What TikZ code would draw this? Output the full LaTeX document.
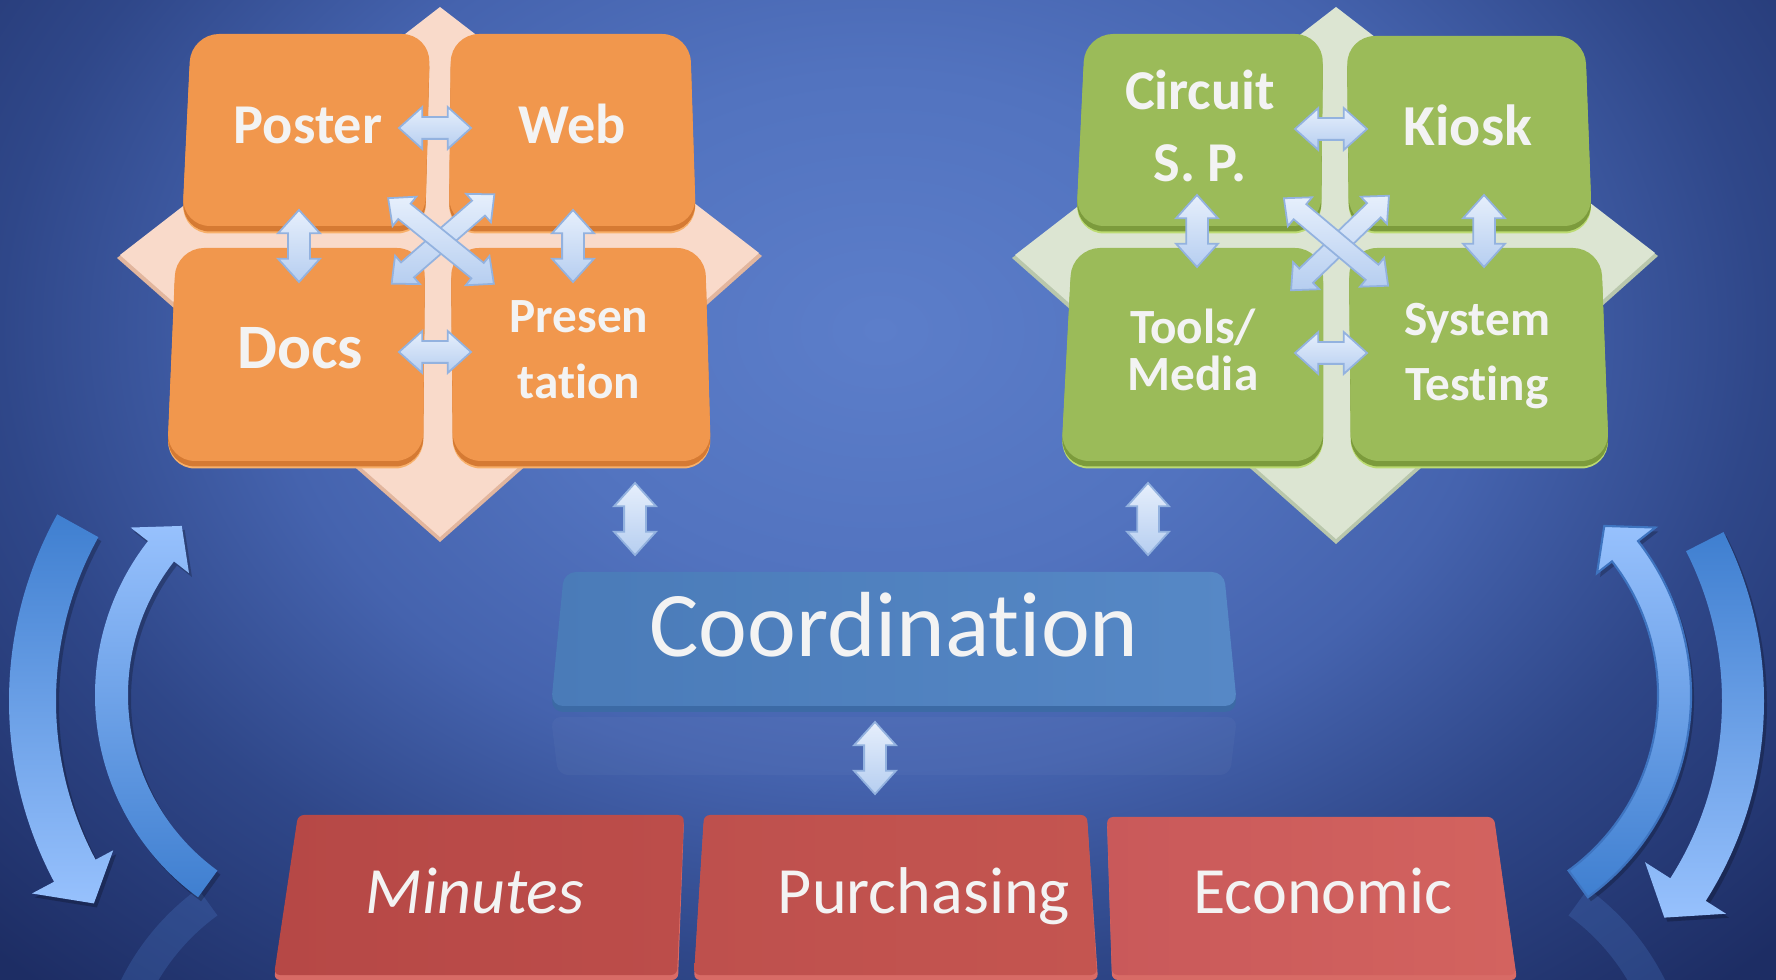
\documentclass[tikz,border=0pt]{standalone}
\usepackage{fontspec}
\setmainfont{Carlito}[Ligatures={NoCommon}]
\usetikzlibrary{shapes.arrows}
\definecolor{bg0}{HTML}{5C7ECA}
\definecolor{bg1}{HTML}{5273BF}
\definecolor{bg2}{HTML}{4563AE}
\definecolor{bg3}{HTML}{2F4789}
\definecolor{bg4}{HTML}{1D2D64}
\pgfdeclareradialshading{bgshade}{\pgfpoint{0bp}{0bp}}{color(0bp)=(bg0); color(8bp)=(bg1); color(14bp)=(bg2); color(20bp)=(bg3); color(28bp)=(bg4); color(50bp)=(bg4)}
\definecolor{orgfill}{HTML}{F1974D}
\definecolor{orgbevc}{HTML}{D57A33}
\definecolor{orgrimc}{HTML}{F8B06A}
\definecolor{orgdia}{HTML}{F9DACA}
\definecolor{orgdiab}{HTML}{E2B69E}
\definecolor{grnfill}{HTML}{9BBB59}
\definecolor{grnbevc}{HTML}{7C9B3C}
\definecolor{grnrimc}{HTML}{BCDB72}
\definecolor{grndia}{HTML}{DCE5D2}
\definecolor{grndiab}{HTML}{B9C7AC}
\definecolor{coA}{HTML}{4A7BB8}
\definecolor{coB}{HTML}{5688C6}
\definecolor{cobev}{HTML}{3C6AA5}
\definecolor{mA}{HTML}{B64846}
\definecolor{mB}{HTML}{BC4D4A}
\definecolor{pA}{HTML}{BE504D}
\definecolor{pB}{HTML}{C45550}
\definecolor{eA}{HTML}{C9595A}
\definecolor{eB}{HTML}{D3635F}
\definecolor{redbev}{HTML}{D86B66}
\definecolor{artop}{HTML}{E6EFFC}
\definecolor{arbot}{HTML}{B6CEF0}
\definecolor{arline}{HTML}{93B2DF}
\definecolor{cdark}{HTML}{3F7FD0}
\definecolor{clight}{HTML}{97C1FD}
\definecolor{cline}{HTML}{3E74C0}
\definecolor{reflc}{HTML}{4F80D0}
\definecolor{txt}{HTML}{F3F3F3}
% trapezoid box: style, x top-left, x top-right, x bottom-right, x bottom-left, y top, y bottom
\newcommand{\tbox}[7]{\path[#1] (#2,#6) -- (#3,#6) -- (#4,#7) -- (#5,#7) -- cycle;}
\newcommand{\bbox}[7]{%
  \tbox{#1rim, yshift=-0.075cm}{#2}{#3}{#4}{#5}{#6}{#7}%
  \tbox{#1bev, yshift=-0.055cm}{#2}{#3}{#4}{#5}{#6}{#7}%
  \tbox{#1main}{#2}{#3}{#4}{#5}{#6}{#7}}
\newcommand{\pathOL}{(394,701) ++(209:385) arc[start angle=209,end angle=152,radius=385] -- ([shift={(394,701)}]152:410) -- ([shift={(394,701)}]146:362) -- ([shift={(394,701)}]152:318) -- ([shift={(394,701)}]152:338) arc[start angle=152,end angle=209,radius=338] -- cycle}
\newcommand{\pathIL}{(345,695) ++(126:250) arc[start angle=126,end angle=218,radius=250] -- ([shift={(345,695)}]218:272) -- ([shift={(345,695)}]226:235) -- ([shift={(345,695)}]218:198) -- ([shift={(345,695)}]218:217) arc[start angle=218,end angle=126,radius=217] -- cycle}
\newcommand{\pathOR}{(1392,701) ++(-27:372) arc[start angle=-27,end angle=32.5,radius=372] -- ([shift={(1392,701)}]32.5:396) -- ([shift={(1392,701)}]38.5:348) -- ([shift={(1392,701)}]32.5:300) -- ([shift={(1392,701)}]32.5:330) arc[start angle=32.5,end angle=-27,radius=330] -- cycle}
\newcommand{\pathIR}{(1441,695) ++(54:250) arc[start angle=54,end angle=-38,radius=250] -- ([shift={(1441,695)}]-38:272) -- ([shift={(1441,695)}]-46:235) -- ([shift={(1441,695)}]-38:198) -- ([shift={(1441,695)}]-38:217) arc[start angle=-38,end angle=54,radius=217] -- cycle}
\begin{document}
\begin{tikzpicture}[x=0.01cm,y=-0.01cm,
  lbl/.style={text=txt, inner sep=0pt},
  darr/.style={double arrow, draw=arline, line width=0.5pt, top color=artop, bottom color=arbot,
    inner xsep=0pt, inner ysep=0.10cm, minimum width=0.40cm, double arrow head extend=0.10cm,
    double arrow tip angle=84, minimum height=#1},
  darr/.default=0.72cm,
  xarr/.style={darr=1.36cm, inner ysep=0.09cm, minimum width=0.36cm, double arrow head extend=0.09cm},
  orgmain/.style={fill=orgfill, rounded corners=0.28cm},
  orgbev/.style={fill=orgbevc, rounded corners=0.28cm},
  orgrim/.style={fill=orgrimc, rounded corners=0.28cm},
  grnmain/.style={fill=grnfill, rounded corners=0.28cm},
  grnbev/.style={fill=grnbevc, rounded corners=0.28cm},
  grnrim/.style={fill=grnrimc, rounded corners=0.28cm},
  boldlbl/.style={lbl, font=\fontsize{#1}{#1}\selectfont\bfseries},
]
\useasboundingbox (0,0) rectangle (1776,980);
\clip (0,0) rectangle (1776,980);
% background
\shade[shading=bgshade] (-220,-470) rectangle (1980,1130);

% reflections
\fill[reflc, opacity=0.25] (345,1091) ++(-126:250) arc[start angle=-126,end angle=-165,radius=250] -- ([shift={(345,1091)}]-165:217) arc[start angle=-165,end angle=-126,radius=217] -- cycle;
\fill[reflc, opacity=0.25] (1441,1091) ++(-54:250) arc[start angle=-54,end angle=-15,radius=250] -- ([shift={(1441,1091)}]-15:217) arc[start angle=-15,end angle=-54,radius=217] -- cycle;
\fill[white, opacity=0.03, rounded corners=0.1cm] (551,717) -- (1237,717) -- (1230,775) -- (558,775) -- cycle;

% curved arrows: shadows
\fill[black, opacity=0.22, shift={(3,4)}] \pathOL;
\fill[black, opacity=0.22, shift={(3,4)}] \pathIL;
\fill[black, opacity=0.22, shift={(3,4)}] \pathOR;
\fill[black, opacity=0.22, shift={(3,4)}] \pathIR;
% curved arrows
\shade[top color=cdark, bottom color=clight] \pathOL;
\shade[top color=clight, bottom color=cdark] \pathIL;
\shade[top color=cdark, bottom color=clight] \pathOR;
\shade[top color=clight, bottom color=cdark, draw=cline, line width=0.6pt] \pathIR;

% diamonds
\fill[orgdiab] (440,10) -- (762,256) -- (440,542) -- (117,258) -- cycle;
\fill[orgdia] (440,7) -- (759,253) -- (440,537) -- (120,255) -- cycle;
\fill[grndiab] (1336,10) -- (1658,256) -- (1336,544) -- (1012,258) -- cycle;
\fill[grndia] (1336,7) -- (1655,253) -- (1336,539) -- (1015,255) -- cycle;

% orange boxes
\bbox{org}{191}{430}{425}{182}{34}{226}
\bbox{org}{451}{690}{696}{449}{34}{226}
\bbox{org}{176}{425}{423}{167}{248}{461}
\bbox{org}{451}{705}{711}{453}{248}{461}
% green boxes
\bbox{grn}{1085}{1323}{1321}{1076}{34}{226}
\bbox{grn}{1347}{1585}{1592}{1349}{36}{226}
\bbox{grn}{1072}{1323}{1323}{1061}{248}{461}
\bbox{grn}{1349}{1601}{1609}{1351}{248}{461}

% coordination box
\tbox{fill=cobev, rounded corners=0.12cm}{564}{1224}{1237}{551}{578}{712}
\tbox{left color=coA, right color=coB, rounded corners=0.12cm}{564}{1224}{1237}{551}{572}{706}

% red boxes
\tbox{fill=redbev, rounded corners=0.06cm}{298}{684}{678}{274}{819}{980}
\tbox{left color=mA, right color=mB, rounded corners=0.06cm}{298}{684}{677}{274}{815}{975}
\tbox{fill=redbev, rounded corners=0.06cm}{704}{1087}{1098}{694}{819}{980}
\tbox{left color=pA, right color=pB, rounded corners=0.06cm}{704}{1087}{1097}{694}{815}{975}
\tbox{fill=redbev, rounded corners=0.06cm}{1107}{1494}{1517}{1112}{821}{980}
\tbox{left color=eA, right color=eB, rounded corners=0.06cm}{1107}{1494}{1516}{1112}{817}{975}

% labels
\node[boldlbl=16, anchor=base] (poster) at (308,144) {Poster};
\node[boldlbl=16, anchor=base] (web) at (572,144) {Web};
\node[boldlbl=18, anchor=base] (docs) at (300,369) {Docs};
\node[lbl, font=\fontsize{14}{18.8}\selectfont\bfseries, align=center] (pres) at (579,350) {Presen\\tat\kern0pt ion};
\node[lbl, font=\fontsize{16}{20.5}\selectfont\bfseries, align=center] (circuit) at (1200,126) {Circuit\\S. P.};
\node[boldlbl=16.5, anchor=base] (kiosk) at (1468,146) {Kiosk};
\node[lbl, font=\fontsize{14}{13.6}\selectfont\bfseries, align=center] (tools) at (1193,350) {Tools/\\Media};
\node[lbl, font=\fontsize{14}{18.6}\selectfont\bfseries, align=center] (system) at (1477,356) {System\\Test\kern0pt ing};
\node[lbl, font=\fontsize{26.3}{30}\selectfont, anchor=base] (coord) at (894,657) {Coordinat\kern0pt ion};
\node[lbl, font=\fontsize{18.8}{22}\selectfont\itshape, anchor=base] (minutes) at (475,913) {Minutes};
\node[lbl, font=\fontsize{18.8}{22}\selectfont, anchor=base] (purch) at (924,913) {Purchasing};
\node[lbl, font=\fontsize{18.8}{22}\selectfont, anchor=base] (econ) at (1323,913) {Economic};

% small double arrows, orange group
\node[darr] (aPW) at (435,128) {};
\node[darr] (aDP) at (435,352) {};
\node[darr, rotate=90] (aPD) at (299,246) {};
\node[darr, rotate=90] (aWP) at (573,246) {};
\node[xarr, rotate=41] (aX2) at (443,239) {};
\node[xarr, rotate=-39] (aX1) at (441,241) {};
% green group
\node[darr] (bCK) at (1331,129) {};
\node[darr] (bTS) at (1331,353) {};
\node[darr, rotate=90] (bCT) at (1197,231) {};
\node[darr, rotate=90] (bKS) at (1484,231) {};
\node[xarr, rotate=44] (bX2) at (1340,243) {};
\node[xarr, rotate=-40] (bX1) at (1336,242) {};
% to coordination
\node[darr, rotate=90] (cO) at (635,519) {};
\node[darr, rotate=90] (cG) at (1148,519) {};
\node[darr, rotate=90] (cB) at (875,758) {};
\end{tikzpicture}
\end{document}
